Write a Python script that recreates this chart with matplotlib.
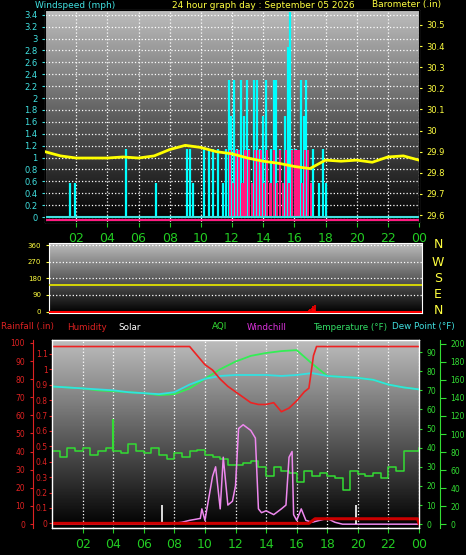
import numpy as np
import matplotlib.pyplot as plt

W, H = 466, 555

# ---- data ----
hours = list(range(25))
baro = [29.90, 29.88, 29.87, 29.87, 29.87, 29.875, 29.87, 29.88, 29.91, 29.93, 29.92, 29.90,
        29.89, 29.87, 29.855, 29.845, 29.83, 29.82, 29.86, 29.855, 29.86, 29.85, 29.875, 29.88, 29.86]

gust_t = [1.6, 1.9, 5.2, 7.1, 9.1, 9.3, 9.5, 10.2, 10.5, 10.8, 11.1, 11.4, 11.6, 11.8, 11.95, 12.1, 12.3,
          12.6, 12.8, 12.95, 13.1, 13.4, 13.6, 13.8, 14.0, 14.2, 14.5, 14.7, 14.85, 15.1, 15.4, 15.6, 15.75,
          15.85, 16.1, 16.4, 16.6, 16.75, 17.2, 17.6, 17.85, 18.0]
gust_v = [0.57, 0.57, 1.15, 0.57, 1.15, 1.15, 0.57, 1.15, 1.15, 1.15, 1.15, 0.57, 1.15, 2.3, 1.7, 2.3, 1.15,
          2.3, 1.7, 2.3, 1.15, 2.3, 2.3, 1.15, 1.7, 2.3, 1.15, 2.3, 2.3, 1.15, 1.7, 2.85, 3.45,
          1.15, 1.15, 2.3, 1.7, 2.3, 1.15, 0.57, 1.15, 0.57]
avg_t = [11.8, 12.0, 12.2, 12.4, 12.6, 12.8, 13.0, 13.2, 13.4, 13.6, 13.8, 14.0, 14.2, 14.4, 14.6, 14.8,
         15.0, 15.2, 15.4, 15.6, 15.8, 16.0, 16.2, 16.4, 16.6, 16.8, 17.0, 17.2]
avg_v = [1.13, 0.57, 1.13, 1.13, 0.57, 1.13, 1.13, 0.57, 1.13, 1.13, 1.13, 0.57, 1.13, 0.57, 1.13, 0.57,
         1.13, 0.57, 1.13, 0.57, 1.13, 1.13, 1.13, 0.57, 1.13, 1.13, 0.57, 0.0]

dir_t = [16.7, 16.8, 16.9, 17.0, 17.05, 17.1, 17.2]
dir_v = [8, 15, 20, 28, 12, 35, 5]

temp = [72, 71.5, 71, 70, 69.5, 69, 68.5, 67.5, 68, 71, 76, 81, 85, 88, 89.5, 90.5, 91, 84, 77.5, 77, 76.5,
        75.5, 73, 71.5, 70.5]
dew = [72, 71.5, 71, 70.5, 70, 69, 68.5, 68, 69, 73, 76, 77.5, 78, 78, 78, 77.5, 78, 79, 77.5, 77, 76.5,
       75.5, 73, 71.5, 70.5]
hum_t = [0, 9, 9.5, 10, 10.5, 11, 11.5, 12, 12.5, 13, 13.5, 14, 14.5, 15, 15.5, 16, 16.5, 16.8, 17.1, 17.3, 24]
hum_v = [98, 98, 93, 88, 85, 80, 76, 73, 70, 67, 66, 66, 67, 62, 64, 68, 73, 75, 93, 98, 98]
aqi = [38, 35, 40, 38, 40, 36, 38, 40, 38, 37, 42, 38, 37, 40, 36, 34, 37, 35, 38, 39, 36, 35, 34, 31,
       31, 32, 33, 30, 25, 30, 28, 27, 22, 28, 25, 27, 25, 24, 18, 28, 26, 25, 27, 24, 30, 28, 38, 38, 40]
aqi_peak_t, aqi_peak_v = 4.0, 55
chill_t = [0, 7.5, 8.5, 9.0, 9.7, 9.8, 10.0, 10.5, 10.7, 11.0, 11.2, 11.5, 11.8, 12.0, 12.2, 12.5, 13.0, 13.3,
           13.5, 13.7, 14.0, 14.5, 15.0, 15.3, 15.5, 15.7, 15.8, 16.0, 16.3, 16.6, 17.0, 17.5, 18.0, 18.5, 19.0, 24]
chill_v = [0, 0, 1, 2, 3, 8, 2, 25, 30, 8, 35, 10, 12, 20, 50, 52, 49, 45, 8, 6, 7, 5, 8, 10, 35, 38, 5, 2,
           8, 2, 1, 2, 3, 1, 0, 0]
rain_t = [0, 16.8, 17.2, 23.9, 24]
rain_v = [0, 0, 0.03, 0.03, 0]
solar_t = [7.2, 19.9]
solar_v = [10, 10]

# ---- figure ----
fig = plt.figure(figsize=(W / 100, H / 100), dpi=100, facecolor='black')
grad = np.linspace(0.74, 0.0, 256).reshape(-1, 1)


def make_ax(x0, y0, x1, y1):
    ax = fig.add_axes([x0 / W, 1 - y1 / H, (x1 - x0) / W, (y1 - y0) / H])
    ax.imshow(grad, cmap='gray', vmin=0, vmax=1, aspect='auto', extent=[0, 24, 0, 1],
              transform=ax.transAxes, zorder=0)
    ax.set_xlim(0, 24)
    ax.set_facecolor('black')
    for s in ax.spines.values():
        s.set_color('white')
    ax.set_xticks(range(2, 25, 2))
    ax.grid(color='white', ls=':', lw=0.9)
    ax.tick_params(labelsize=7)
    return ax


xlabs = ['%02d' % (h % 24) for h in range(2, 25, 2)]

# top panel
ax1 = make_ax(45, 10, 419, 222)
ax1.set_ylim(-0.084, 3.48)
ax1.set_yticks(np.arange(0, 3.41, 0.2))
ax1.set_yticklabels(['0'] + ['%g' % round(v, 1) for v in np.arange(0.2, 3.41, 0.2)], color='#40e0e0')
ax1.tick_params(axis='y', colors='#40e0e0', length=2, labelsize=6)
ax1.set_xticklabels(xlabs, color='#22cc22', fontsize=9)
ax1.tick_params(axis='x', colors='#22cc22')
ax1.vlines(gust_t, 0, gust_v, color='#00ffff', lw=1.6, zorder=3)
ax1.bar(avg_t, avg_v, width=0.14, align='edge', color='#ff1a80', zorder=4)
ax1.axhline(0, color='#40e0e0', lw=1.5, zorder=5)
ax1.axhline(-0.05, color='#ff1a80', lw=1.5, zorder=5)
ax1b = ax1.twinx()
ax1b.set_ylim(29.567, 30.571)
ax1b.set_yticks(np.arange(29.6, 30.51, 0.1))
ax1b.set_yticklabels(['%g' % round(v, 1) for v in np.arange(29.6, 30.51, 0.1)])
ax1b.tick_params(axis='y', colors='#ffff40', labelsize=6, length=2)
ax1b.plot(hours, baro, color='#ffff00', lw=2, zorder=6)
fig.text(35 / W, 1 - 5 / H, 'Windspeed (mph)', color='#40e0e0', fontsize=6.5, va='center')
fig.text(172 / W, 1 - 5 / H, '24 hour graph day : September 05 2026', color='#ffff40', fontsize=6.5, va='center')
fig.text(372 / W, 1 - 5 / H, 'Barometer (.in)', color='#ffff40', fontsize=6.5, va='center')

# middle panel
ax2 = make_ax(49, 243, 422, 313)
ax2.set_ylim(-8, 372)
ax2.set_yticks([0, 90, 180, 270, 360])
ax2.tick_params(axis='y', colors='#ffff40', labelsize=5, length=2)
ax2.grid(axis='x', visible=False)
ax2.set_xticklabels([])
ax2.tick_params(axis='x', length=0)
ax2.axhline(145, color='#e0e000', lw=1.3, zorder=3)
ax2.vlines(dir_t, 0, dir_v, color='red', lw=1.2, zorder=3)
ax2.axhline(-3, color='red', lw=1.5, zorder=3)
for lab, yy in zip(['N', 'W', 'S', 'E', 'N'], [245, 262, 278, 295, 311]):
    fig.text(438 / W, 1 - yy / H, lab, color='#ffff40', fontsize=9, va='center', ha='center')

# bottom panel (temperature axis as base)
ax3 = make_ax(52, 340, 419, 528)
ax3.set_ylim(-2, 96.3)
ax3.set_yticks([])
ax3.set_xticklabels(xlabs, color='#22cc22', fontsize=9)
ax3.tick_params(axis='x', colors='#22cc22')
ax3.plot(hours, temp, color='#33ee55', lw=1.3, zorder=3)
ax3.plot(hours, dew, color='#33e0e0', lw=1.3, zorder=3)
aqi_t = np.arange(len(aqi)) * 0.5
ax3.step(aqi_t, aqi, where='post', color='#33dd33', lw=1.1, zorder=3)
ax3.vlines(aqi_peak_t, 38, aqi_peak_v, color='#33dd33', lw=1.5, zorder=3)
ax3.plot(chill_t, chill_v, color='#ee88ee', lw=1.1, zorder=4)
ax3.vlines(solar_t, 0, solar_v, color='white', lw=1.2, zorder=4)

axh = ax3.twinx()
axh.yaxis.set_ticks_position('left')
axh.spines['left'].set_position(('outward', 14))
axh.set_ylim(-2.2, 101.6)
axh.set_yticks(range(0, 101, 10))
axh.tick_params(axis='y', colors='#dd2222', labelsize=5.5, length=2)
axh.plot(hum_t, hum_v, color='#ee2222', lw=1.2, zorder=5)

axr = ax3.twinx()
axr.yaxis.set_ticks_position('left')
axr.set_ylim(-0.03, 1.19)
axr.set_yticks(np.arange(0, 1.11, 0.1))
axr.set_yticklabels(['0'] + ['%g' % round(v, 1) for v in np.arange(0.1, 1.11, 0.1)])
axr.tick_params(axis='y', colors='#dd2222', labelsize=5.5, length=2, pad=1)
axr.plot(rain_t, rain_v, color='#cc0000', lw=2.2, zorder=5)

axt = ax3.twinx()
axt.set_ylim(-2, 96.3)
axt.set_yticks(range(0, 91, 10))
axt.tick_params(axis='y', colors='#33dd33', labelsize=5.5, length=2)

axs = ax3.twinx()
axs.spines['right'].set_position(('outward', 15))
axs.set_ylim(-4, 204)
axs.set_yticks(range(0, 201, 20))
axs.tick_params(axis='y', colors='#33dd33', labelsize=5.5, length=4)
for a in (axh, axr, axt, axs):
    for s in a.spines.values():
        s.set_color('white')
axh.spines['left'].set_color('#dd2222')
axs.spines['right'].set_color('#33dd33')

ty = 1 - 327 / H
for x, s, c in [(1, 'Rainfall (.in)', '#dd2222'), (67, 'Humidity', '#dd2222'), (118, 'Solar', 'white'),
                (212, 'AQI', '#33dd33'), (247, 'Windchill', '#dd33dd'),
                (313, 'Temperature (\u00b0F)', '#33dd66'), (392, 'Dew Point (\u00b0F)', '#40e0e0')]:
    fig.text(x / W, ty, s, color=c, fontsize=6.3, va='center')

fig.savefig('out.png', dpi=100, facecolor='black')
